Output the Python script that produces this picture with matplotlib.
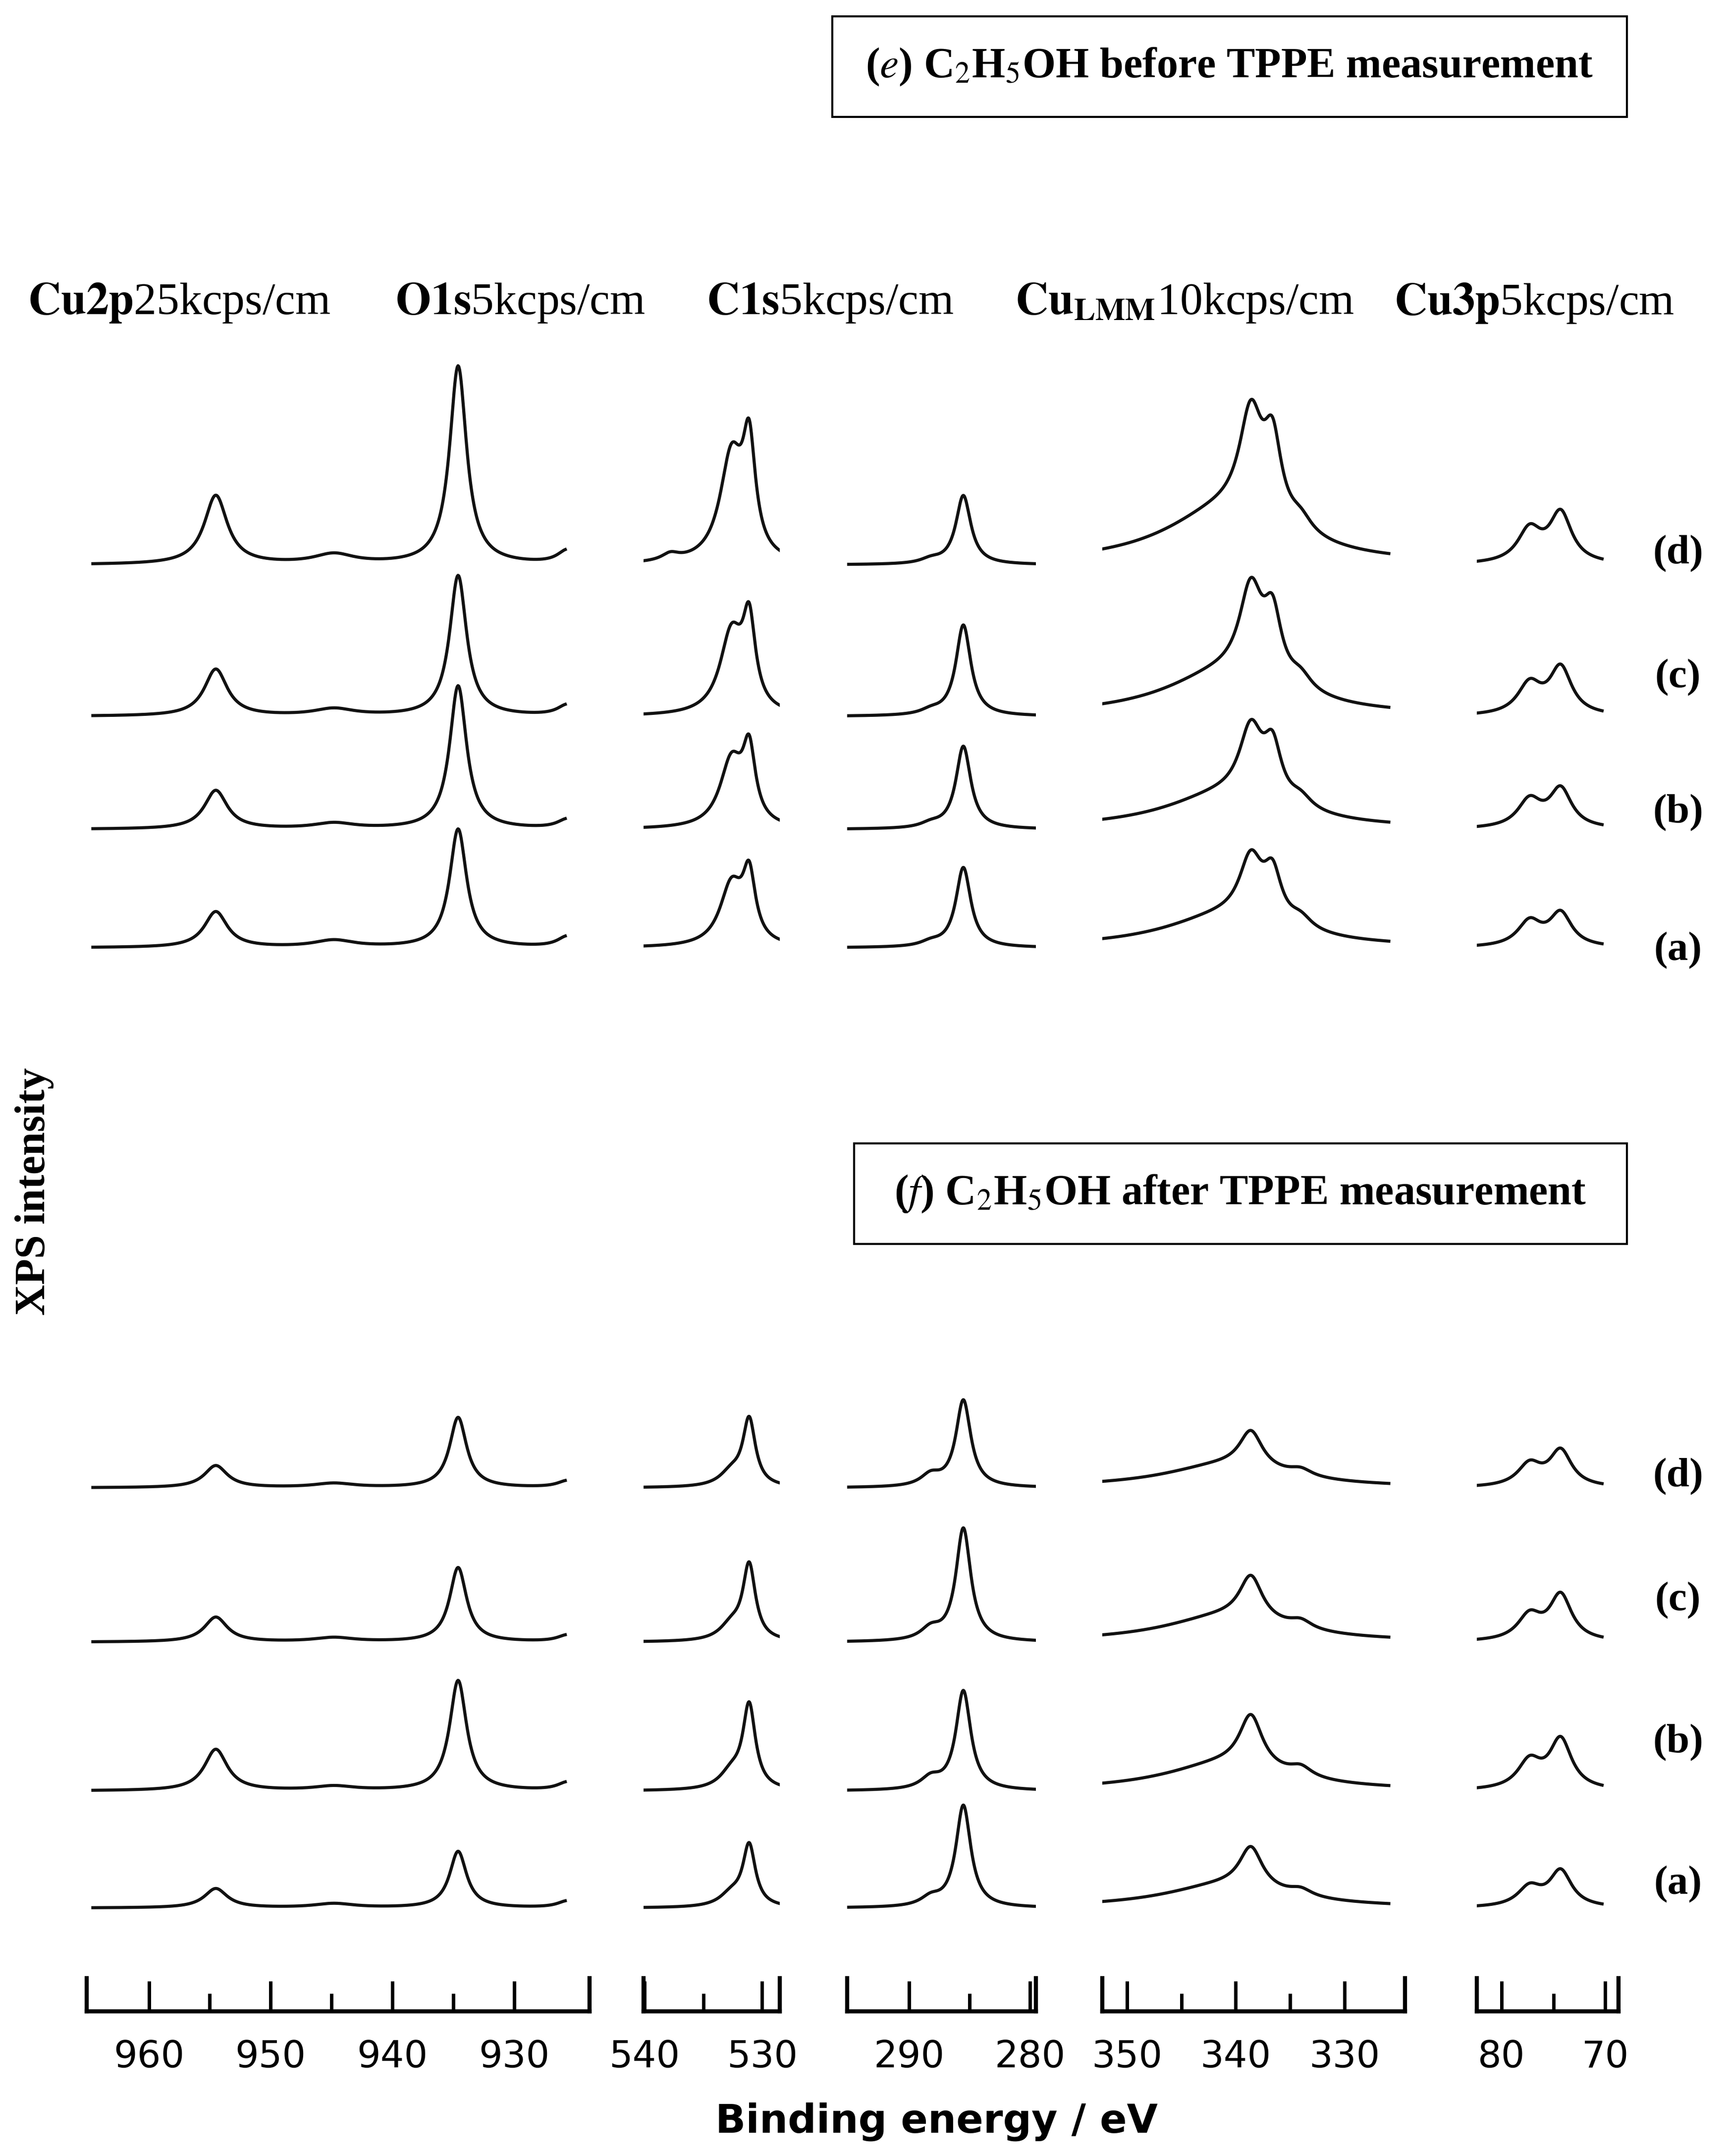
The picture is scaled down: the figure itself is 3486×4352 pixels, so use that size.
import numpy as np
import matplotlib.pyplot as plt
from matplotlib.patches import Rectangle

plt.rcParams['font.family'] = ['Liberation Serif', 'DejaVu Serif']
plt.rcParams['mathtext.fontset'] = 'stix'

# reference was read at 1254 x 1565 px; everything below is in that grid
W, H = 1254.0, 1565.0
AX_BOTTOM, AX_TOP = 1460.0, 200.0

# trace labels bottom -> top
traces = ['(a)', '(b)', '(c)', '(d)']
e_base = [772, 858, 940, 1050]
f_base = [75, 160, 268, 380]

# columns: pixel span of axis, energy limits, trace energy span, major/minor ticks
col_px = [(63, 428), (467, 566), (615, 752), (800, 1020), (1072, 1175)]
col_lim = [(965.1, 923.8), (540.1, 528.5), (295.1, 279.5), (352.3, 324.4), (82.4, 68.7)]
col_span = [(964.6, 925.8), (540.1, 528.0), (295.0, 279.6), (352.9, 325.9), (83.0, 70.3)]
col_major = [[960, 950, 940, 930], [540, 530], [290, 280], [350, 340, 330], [80, 70]]
col_minor = [[955, 945, 935], [535], [285], [345, 335], [75]]

# peak centres (eV) and FWHM (eV) per column
cu2p_pos = [954.5, 934.6, 944.8, 925.6]
cu2p_fw = [2.3, 1.7, 4.0, 2.0]
o1s_pos = [531.1, 532.6, 537.8]
o1s_fw = [1.3, 2.4, 1.8]
c1s_pos = [285.5, 288.2]
c1s_fw = [1.5, 2.0]
lmm_pos = [338.6, 336.6, 334.0, 341.0]
lmm_fw = [2.6, 2.0, 2.5, 14.0]
cu3p_pos = [77.3, 74.3]
cu3p_fw = [2.8, 2.6]

# heights (px) per trace a,b,c,d for each component
e_cu2p = [[26, 28, 34, 50], [86, 104, 102, 144], [5, 4, 5, 7], [8, 7, 8, 10]]
e_o1s = [[46, 50, 60, 76], [44, 48, 58, 76], [0, 0, 0, 5]]
e_c1s = [[58, 60, 66, 50], [3, 3, 3, 3]]
e_lmm = [[44, 50, 64, 74], [34, 38, 46, 56], [8, 8, 10, 10], [22, 24, 30, 38]]
e_cu3p = [[18, 20, 22, 24], [24, 28, 34, 36]]

f_cu2p = [[14, 30, 18, 16], [41, 80, 54, 51], [3, 3, 3, 3], [5, 6, 5, 5]]
f_o1s = [[44, 60, 54, 48], [9, 12, 11, 10], [0, 0, 0, 0]]
f_c1s = [[74, 72, 82, 63], [6, 8, 8, 8]]
f_lmm = [[30, 38, 32, 27], [0, 0, 0, 0], [5, 7, 6, 5], [16, 19, 18, 16]]
f_cu3p = [[14, 20, 18, 16], [26, 36, 33, 26]]

col_pos = [cu2p_pos, o1s_pos, c1s_pos, lmm_pos, cu3p_pos]
col_fw = [cu2p_fw, o1s_fw, c1s_fw, lmm_fw, cu3p_fw]
e_heights = [e_cu2p, e_o1s, e_c1s, e_lmm, e_cu3p]
f_heights = [f_cu2p, f_o1s, f_c1s, f_lmm, f_cu3p]


def lor(x, c, h, fw):
    g = fw / 2.0
    return h * g * g / ((x - c) ** 2 + g * g)


def spectrum(x, pos, fw, hts, i):
    y = np.zeros_like(x)
    for c, w, hh in zip(pos, fw, hts):
        y += lor(x, c, hh[i], w)
    return y


fig = plt.figure(figsize=(34.87, 43.52), dpi=100)
LW = 4.5

for k in range(5):
    x0, x1 = col_px[k]
    ax = fig.add_axes([x0 / W, 1 - AX_BOTTOM / H, (x1 - x0) / W, (AX_BOTTOM - AX_TOP) / H])
    ax.set_xlim(*col_lim[k])
    ax.set_ylim(0, AX_BOTTOM - AX_TOP)
    ax.patch.set_alpha(0)
    x = np.linspace(col_span[k][0], col_span[k][1], 600)
    for bases, hts in ((e_base, e_heights[k]), (f_base, f_heights[k])):
        for i in range(4):
            y = spectrum(x, col_pos[k], col_fw[k], hts, i)
            ax.plot(x, bases[i] + y, color='#111111', lw=LW)
    ax.spines['top'].set_visible(False)
    for s in ('left', 'right'):
        ax.spines[s].set_bounds(0, 24)
        ax.spines[s].set_linewidth(6)
    ax.spines['bottom'].set_linewidth(6)
    ax.set_yticks([])
    ax.set_xticks(col_major[k])
    ax.set_xticks(col_minor[k], minor=True)
    ax.tick_params(axis='x', which='major', direction='in', length=44, width=5,
                   pad=40, labelsize=54)
    ax.tick_params(axis='x', which='minor', direction='in', length=26, width=5)
    for t in ax.get_xticklabels():
        t.set_fontfamily('DejaVu Sans')

# headers
headers = [(20, r'$\mathbf{Cu2p}$25kcps/cm'), (287, r'$\mathbf{O1s}$5kcps/cm'),
           (513, r'$\mathbf{C1s}$5kcps/cm'), (737, r'$\mathbf{Cu_{LMM}}$10kcps/cm'),
           (1012, r'$\mathbf{Cu3p}$5kcps/cm')]
for hx, txt in headers:
    fig.text(hx / W, 1 - 220 / H, txt, fontsize=66, va='center', ha='left')

# trace labels
for lab, yy in zip(traces, [690, 590, 492, 402]):
    fig.text(1218 / W, 1 - yy / H, lab, fontsize=60, fontweight='bold', ha='center', va='center')
for lab, yy in zip(traces, [1368, 1265, 1162, 1072]):
    fig.text(1218 / W, 1 - yy / H, lab, fontsize=60, fontweight='bold', ha='center', va='center')

# boxed titles
for (bx0, by0, bx1, by1, txt) in [
        (604, 12, 1181, 85, r'($\mathit{e}$) C$_2$H$_5$OH before TPPE measurement'),
        (620, 830, 1181, 903, r'($\mathit{f}$) C$_2$H$_5$OH after TPPE measurement')]:
    fig.patches.append(Rectangle((bx0 / W, 1 - by1 / H), (bx1 - bx0) / W, (by1 - by0) / H,
                                 transform=fig.transFigure, fill=False, lw=3, ec='black'))
    fig.text((bx0 + bx1) / 2 / W, 1 - (by0 + by1) / 2 / H, txt, fontsize=62,
             fontweight='bold', ha='center', va='center')

fig.text(25 / W, 1 - 865 / H, 'XPS intensity', rotation=90, fontsize=62,
         fontweight='bold', ha='center', va='center')
fig.text(680 / W, 1 - 1540 / H, 'Binding energy / eV', fontsize=58, ha='center',
         va='center', family='DejaVu Sans', fontweight='bold')

fig.savefig('out.png', dpi=100, facecolor='white')
